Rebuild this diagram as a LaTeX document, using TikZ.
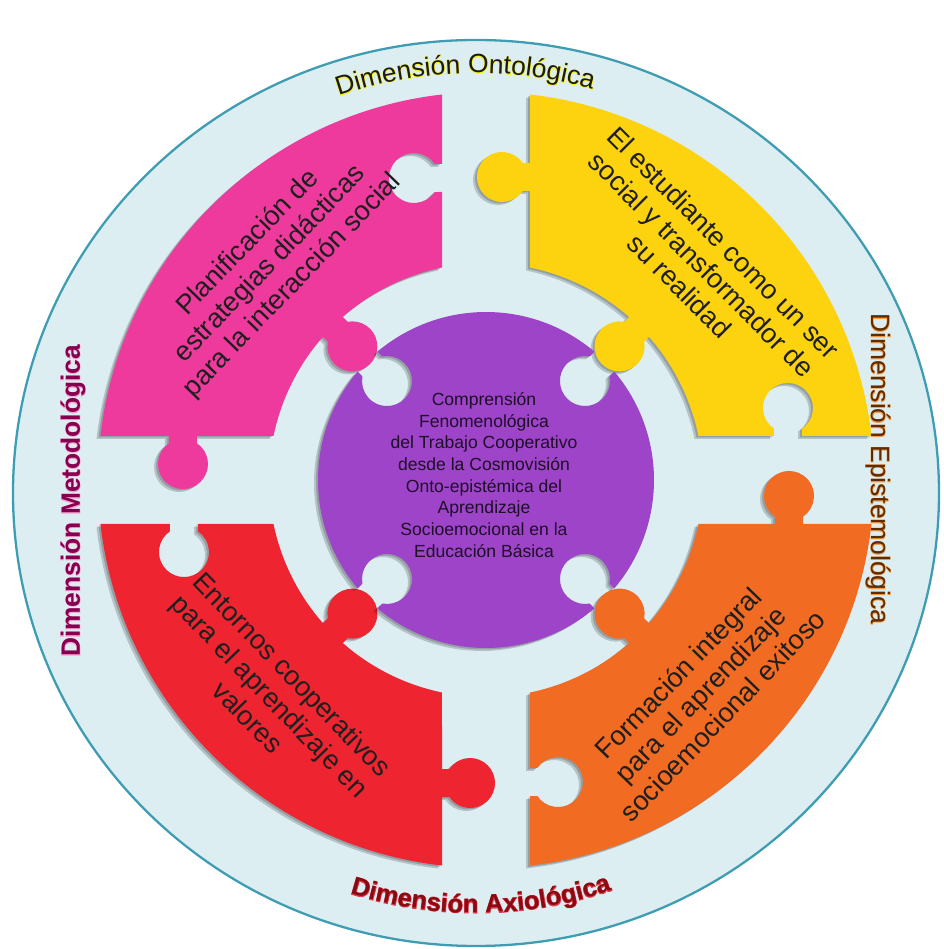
\documentclass[tikz,border=0pt]{standalone}
\usepackage{fontspec}
\setmainfont{Liberation Sans}
\usepackage{xcolor}
\usetikzlibrary{decorations.text}

\definecolor{bgring}{HTML}{DDEEF3}
\definecolor{ringline}{HTML}{3E9DB3}
\definecolor{pinkpz}{HTML}{EE3A9C}
\definecolor{yellowpz}{HTML}{FDD20E}
\definecolor{orangepz}{HTML}{F26B22}
\definecolor{redpz}{HTML}{EE2530}
\definecolor{purplepz}{HTML}{9D44C8}
\definecolor{ontoc}{HTML}{1A1A1A}
\definecolor{metoc}{HTML}{86004F}
\definecolor{epistc}{HTML}{5E2C00}
\definecolor{axioc}{HTML}{8A0A14}
\definecolor{ontoglow}{HTML}{F4F22A}
\definecolor{metoglow}{HTML}{F2A6CF}
\definecolor{epistglow}{HTML}{F5A04A}
\definecolor{axioglow}{HTML}{E0404C}

% round knob on a circular edge: angle #1, edge radius #2
\newcommand\knob[2]{%
  -- ({#1-atan2(14,#2-7.31)}:{veclen(#2-7.31,14)})
  arc[start angle={#1-34.08}, end angle={#1-325.92}, radius=25]
  -- ({#1+asin(14/#2)}:#2)}

% one quarter piece (top left), the others are turned copies
\newcommand\piecepath{(-44,385.5) -- (-44,316) -- (-51.31,316)
  arc[start angle=34.08, end angle=325.92, radius=25] -- (-44,288) -- (-44,212.5)
  arc[start angle=101.7, end angle={135-asin(14/217)}, radius=217] \knob{135}{217}
  arc[start angle={135+asin(14/217)}, end angle=168.3, radius=217]
  -- (-289,44) -- (-289,36.69)
  arc[start angle=55.92, end angle=-235.92, radius=25] -- (-317,44) -- (-385.5,44)
  arc[start angle=173.49, end angle=96.51, radius=388] -- cycle}

% centre piece with four sockets
\newcommand\centrepath{({-45+asin(14/168)}:168)
  \foreach \a in {45,135,225,315} {
    arc[start angle={\a-90+asin(14/168)}, end angle={\a-asin(14/168)}, radius=168] \knob{\a}{168}
  } -- cycle}

% glow under a label
\newcommand\glow{\addfontfeature{FakeBold=4}}

\begin{document}
\begin{tikzpicture}[x=0.02cm, y=0.02cm,
  piecetext/.style={align=center, font=\fontsize{15.5}{17.5}\selectfont, text=black!88},
  centertext/.style={align=center, font=\fontsize{10}{12.3}\selectfont, text=black!80!purplepz},
  metolabel/.style={rotate=90, font=\fontsize{15}{18}\selectfont\bfseries},
  epistlabel/.style={rotate=-90, font=\fontsize{15}{18}\selectfont},
  shade/.style={black, opacity=0.18}]
\useasboundingbox (-486,-469) rectangle (457,480);
\fill[white] (-486,-469) rectangle (457,480);

% Ring
\filldraw[fill=bgring, draw=ringline, line width=1.3pt] (-10,-13) ellipse [x radius=463, y radius=453];

% Pieces
\foreach \ang/\col in {0/pinkpz, -90/yellowpz, -180/orangepz, -270/redpz} {
  \fill[shade, shift={(-4,-3)}, rotate=\ang] \piecepath;
  \fill[shade, shift={(-2,-1.5)}, rotate=\ang] \piecepath;
  \fill[\col, rotate=\ang] \piecepath;
}
\fill[shade, shift={(-4,-3)}] \centrepath;
\fill[shade, shift={(-2,-1.5)}] \centrepath;
\fill[purplepz] \centrepath;

% Texts of the pieces
\node[piecetext, rotate=46] (planif) at (135:305) {Planificación de\\estrategias didácticas\\para la interacción social};
\node[piecetext, rotate=-45] (estud) at (45:305) {El estudiante como un ser\\social y transformador de\\su realidad};
\node[piecetext, rotate=-46] (entornos) at (225:305) {Entornos cooperativos\\para el aprendizaje en\\valores};
\node[piecetext, rotate=46] (formacion) at (315:303) {Formación integral\\para el aprendizaje\\socioemocional exitoso};
\node[centertext] (centro) at (-2,5) {Comprensión\\Fenomenológica\\del Trabajo Cooperativo\\desde la Cosmovisión\\Onto-epistémica del\\Aprendizaje\\Socioemocional en la\\Educación Básica};

% Dimensions
\foreach \fx/\col in {\glow/ontoglow, /ontoc}
  \path[decorate, decoration={text along path, text align=center,
    text={|\fontsize{15}{18}\selectfont\fx\color{\col}|Dimensión Ontológica}}]
    ([shift={(-10,-13)}]131.5:420) arc[start angle=131.5, end angle=51.5, radius=420];
\foreach \fx/\col in {\glow/axioglow, /axioc}
  \path[decorate, decoration={text along path, text align=center,
    text={|\fontsize{14.5}{18}\selectfont\bfseries\fx\color{\col}|Dimensión Axiológica}}]
    ([shift={(-10,-13)}]-129.3:420) arc[start angle=-129.3, end angle=-49.3, radius=420];
\node[metolabel, text=metoglow] (metodglow) at (-413,-21) {\glow Dimensión Metodológica};
\node[metolabel, text=metoc] (metod) at (-413,-21) {Dimensión Metodológica};
\node[epistlabel, text=epistglow] (episteglow) at (392,11) {\glow Dimensión Epistemológica};
\node[epistlabel, text=epistc] (episte) at (392,11) {Dimensión Epistemológica};
\end{tikzpicture}
\end{document}
